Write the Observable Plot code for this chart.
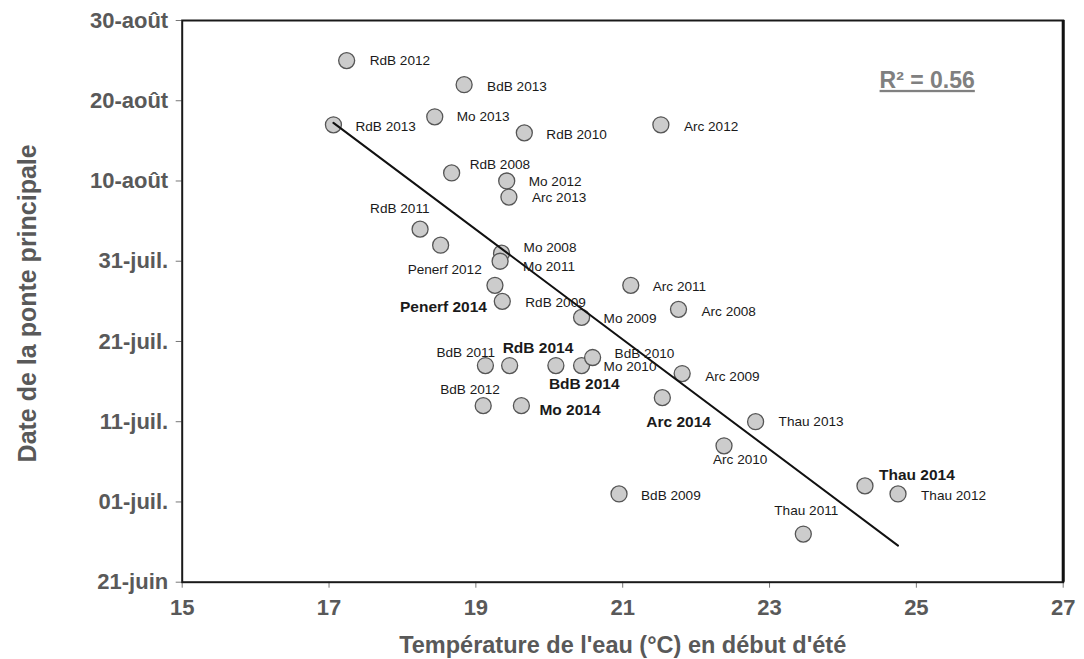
<!DOCTYPE html>
<html>
<head>
<meta charset="utf-8">
<script src="https://cdn.jsdelivr.net/npm/d3@7"></script>
<script src="https://cdn.jsdelivr.net/npm/@observablehq/plot@0.6"></script>
<style>
  html, body { margin: 0; padding: 0; background: #ffffff; }
  #chart svg { display: block; }
</style>
</head>
<body>
<div id="chart"></div>
<script>
// Spawning date vs early-summer water temperature, by site and year
const sites = ["RdB","BdB","Mo","RdB","RdB","Arc","RdB","Mo","Arc","RdB","Penerf","Mo","Mo","Penerf","RdB","Arc","Arc","Mo","BdB","RdB","BdB","Mo","BdB","Arc","Arc","BdB","Mo","Thau","Arc","Thau","Thau","BdB","Thau"];
const years = [2012,2013,2013,2013,2010,2012,2008,2012,2013,2011,2012,2008,2011,2014,2009,2011,2008,2009,2011,2014,2014,2010,2010,2009,2014,2012,2014,2013,2010,2014,2012,2009,2011];
const temperatures = [17.24,18.84,18.44,17.06,19.66,21.52,18.67,19.42,19.45,18.24,18.52,19.35,19.33,19.26,19.36,21.11,21.76,20.44,19.13,19.46,20.09,20.44,20.59,21.81,21.54,19.10,19.62,22.81,22.38,24.30,24.75,20.95,23.46];
const spawnDates = ["08-25","08-22","08-18","08-17","08-16","08-17","08-11","08-10","08-08","08-04","08-02","08-01","07-31","07-28","07-26","07-28","07-25","07-24","07-18","07-18","07-18","07-18","07-19","07-17","07-14","07-13","07-13","07-11","07-08","07-03","07-02","07-02","06-27"];

// Axis ticks
const xTicks = [15, 17, 19, 21, 23, 25, 27];
const tickDates = ["06-21","07-01","07-11","07-21","07-31","08-10","08-20","08-30"];
const tickLabels = ["21-juin","01-juil.","11-juil.","21-juil.","31-juil.","10-août","20-août","30-août"];

// Linear trend (days after 21 June as a function of temperature) and its fit
const trendSlope = -6.85;
const trendIntercept = 174.1;
const rSquared = "0.56";

// Label placement around each point: [dx, dy] of the label's left edge
const labelOffsets = [
  [23,0],[23,2],[22,0],[22,2],[22,2],[23,2],[18,-8],[22,1],[23,1],[-50,-20],
  [-33,24],[22,-6],[23,5],[-95,22],[23,1],[22,1],[23,2],[22,1],[-49,-13],[-7,-18],
  [-7,18],[22,1],[22,-4],[23,3],[-16,24],[-43,-16],[18,4],[23,0],[-11,14],[14,-11],
  [23,2],[22,2],[-29,-23]
];

const parseMD = s => new Date(Date.UTC(2001, +s.slice(0, 2) - 1, +s.slice(3)));
const origin = parseMD(tickDates[0]);
const dayOf = s => d3.utcDay.count(origin, parseMD(s));

const points = sites.map((s, i) => ({
  label: `${s} ${years[i]}`,
  t: temperatures[i],
  d: dayOf(spawnDates[i]),
  bold: years[i] === 2014,
  off: labelOffsets[i]
}));

const tickDays = tickDates.map(dayOf);
const tickText = new Map(tickDays.map((d, i) => [d, tickLabels[i]]));

const [tMin, tMax] = d3.extent(temperatures);
const trend = [tMin, tMax].map(t => ({t, d: trendIntercept + trendSlope * t}));

const font = "'Liberation Sans', Arial, Helvetica, sans-serif";
const grey = "#595959";

const labelMarks = points.map(p => Plot.text([p], {
  x: "t", y: "d", text: "label",
  dx: p.off[0], dy: p.off[1],
  textAnchor: "start", lineAnchor: "middle",
  fontSize: p.bold ? 15.5 : 13.6,
  fontWeight: p.bold ? "bold" : "normal",
  fill: "#1a1a1a"
}));

const chart = Plot.plot({
  width: 1084,
  height: 659,
  marginLeft: 181.7,
  marginRight: 21.3,
  marginTop: 20,
  marginBottom: 77.3,
  style: {fontFamily: font, background: "#ffffff"},
  x: {domain: [15, 27]},
  y: {domain: [0, 70]},
  marks: [
    Plot.axisX({
      ticks: xTicks, tickSize: 6, tickPadding: 11, label: null,
      stroke: "#777777", fill: grey, fontSize: 22, fontWeight: "bold"
    }),
    Plot.axisY({
      ticks: tickDays, tickSize: 6, tickPadding: 8, label: null,
      tickFormat: d => tickText.get(d),
      stroke: "#777777", fill: grey, fontSize: 22, fontWeight: "bold"
    }),
    Plot.frame({stroke: "#1a1a1a", strokeWidth: 2}),
    Plot.ruleX([27], {stroke: "#111111", strokeWidth: 3}),
    Plot.dot(points, {x: "t", y: "d", r: 8, fill: "#cccccc", stroke: "#555555", strokeWidth: 1.3}),
    Plot.line(trend, {x: "t", y: "d", stroke: "#111111", strokeWidth: 2}),
    ...labelMarks,
    Plot.text([`R² = ${rSquared}`], {
      frameAnchor: "top-right", dx: -136, dy: 60,
      textAnchor: "middle", lineAnchor: "middle",
      fontSize: 23, fontWeight: "bold", fill: "#808080"
    }),
    Plot.text(["Date de la ponte principale"], {
      frameAnchor: "left", dx: -154, dy: 2, rotate: -90,
      textAnchor: "middle", lineAnchor: "middle",
      fontSize: 25, fontWeight: "bold", fill: grey
    }),
    Plot.text(["Température de l'eau (°C) en début d'été"], {
      frameAnchor: "bottom", dy: 63,
      textAnchor: "middle", lineAnchor: "middle",
      fontSize: 23.5, fontWeight: "bold", fill: grey
    })
  ]
});

// The R² annotation is underlined
d3.select(chart).selectAll("text")
  .filter(function () { return this.textContent.startsWith("R²"); })
  .attr("text-decoration", "underline");

document.getElementById("chart").appendChild(chart);
</script>
</body>
</html>
